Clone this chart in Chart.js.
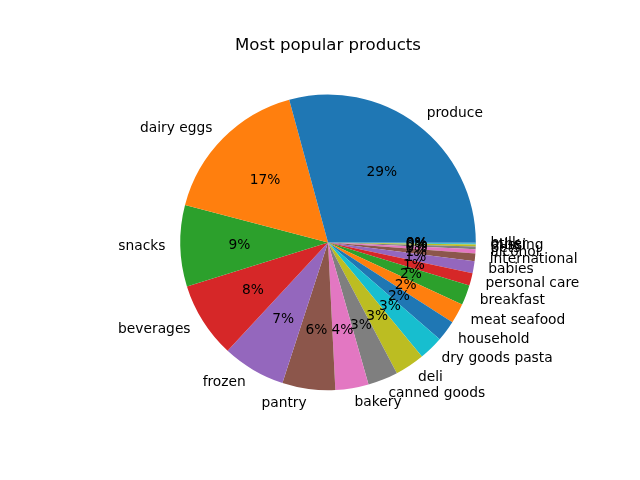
<!DOCTYPE html>
<html><head><meta charset="utf-8">
<script src="https://cdn.jsdelivr.net/npm/chart.js@4/dist/chart.umd.min.js"></script>
<style>html,body{margin:0;padding:0;background:#fff}#wrap{width:640px;height:480px}</style>
</head><body><div id="wrap"><canvas id="c" width="640" height="480"></canvas></div>
<script>
const categories = ["produce","dairy eggs","snacks","beverages","frozen","pantry","bakery","canned goods","deli","dry goods pasta","household","meat seafood","breakfast","personal care","babies","international","alcohol","pets","missing","other","bulk"];
const values = [9479291,5414016,2887550,2690129,2236432,1875577,1176787,1068058,1051249,866627,738666,709569,708931,447123,423802,269253,153696,97724,69145,36291,34573];
const titleText = "Most popular products";
const tab10 = ["#1f77b4","#ff7f0e","#2ca02c","#d62728","#9467bd","#8c564b","#e377c2","#7f7f7f","#bcbd22","#17becf"];

const colors = categories.map((_, i) => tab10[i % 10]);
// matplotlib draws counterclockwise from 3 o'clock; Chart.js clockwise -> reverse
const rev = a => a.slice().reverse();
const total = values.reduce((a, b) => a + b, 0);

const FONT = "DejaVu Sans, sans-serif";
const labelsPlugin = {
  id: 'mplLabels',
  afterDraw(chart) {
    const ctx = chart.ctx;
    const meta = chart.getDatasetMeta(0);
    const n = categories.length;
    ctx.save();
    ctx.fillStyle = '#000';
    ctx.font = '16.6px ' + FONT;
    ctx.textAlign = 'center';
    ctx.textBaseline = 'alphabetic';
    ctx.fillText(titleText, 328, 49.6);
    ctx.font = '13.8px ' + FONT;
    ctx.textBaseline = 'middle';
    for (let i = 0; i < n; i++) {
      const el = meta.data[n - 1 - i];
      const a = (el.startAngle + el.endAngle) / 2;
      const r = el.outerRadius;
      const cx = el.x, cy = el.y;
      const lx = cx + 1.1 * r * Math.cos(a), ly = cy + 1.1 * r * Math.sin(a);
      ctx.textAlign = Math.cos(a) > 0 ? 'left' : 'right';
      ctx.fillText(categories[i], lx, ly);
      const px = cx + 0.6 * r * Math.cos(a), py = cy + 0.6 * r * Math.sin(a);
      ctx.textAlign = 'center';
      ctx.fillText(Math.round(values[i] / total * 100) + '%', px, py + 0.5);
    }
    ctx.restore();
  }
};

new Chart(document.getElementById('c'), {
  type: 'pie',
  data: {
    labels: rev(categories),
    datasets: [{ data: rev(values), backgroundColor: rev(colors), borderWidth: 0, hoverOffset: 0 }]
  },
  options: {
    responsive: false,
    animation: false,
    rotation: 90,
    layout: { padding: { left: 180.2, right: 164.2, top: 94.6, bottom: 89.8 } },
    plugins: { legend: { display: false }, tooltip: { enabled: false }, title: { display: false } },
    events: []
  },
  plugins: [labelsPlugin]
});
</script></body></html>
